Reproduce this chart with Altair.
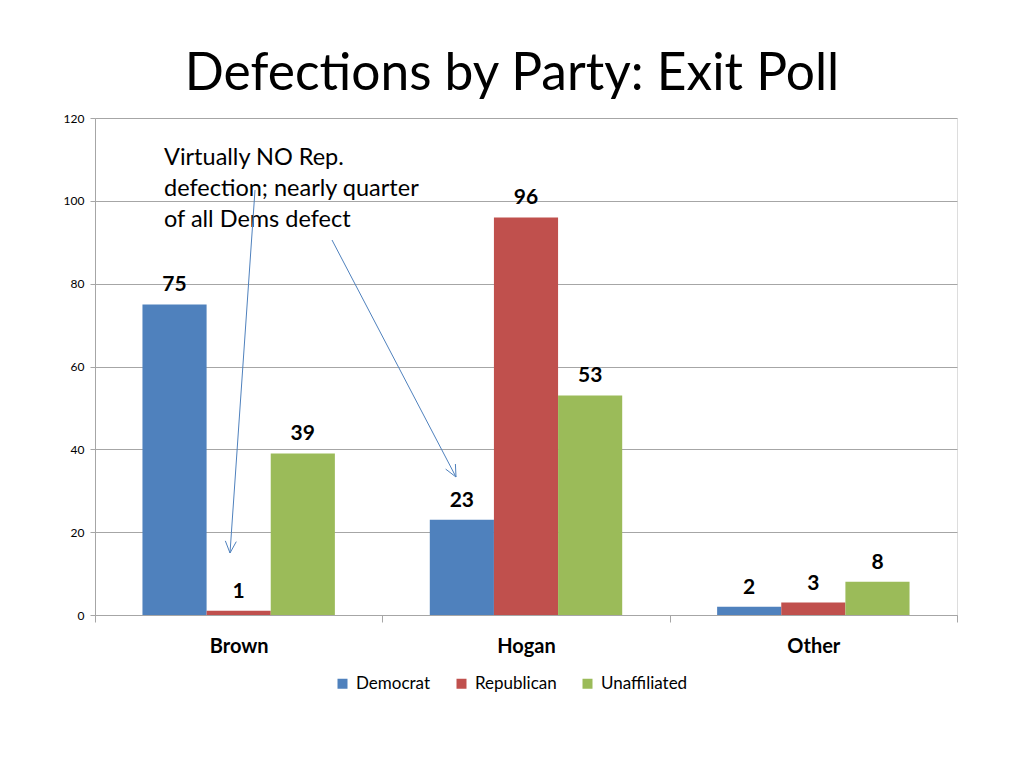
import altair as alt
import pandas as pd
import numpy as np

candidates = ["Brown", "Hogan", "Other"]
parties = ["Democrat", "Republican", "Unaffiliated"]
colors = ["#4F81BD", "#C0504D", "#9BBB59"]
democrat = [75, 23, 2]
republican = [1, 96, 3]
unaffiliated = [39, 53, 8]

rows = []
for i, c in enumerate(candidates):
    for p, vals in zip(parties, [democrat, republican, unaffiliated]):
        rows.append({"candidate": c, "party": p, "value": vals[i]})
df = pd.DataFrame(rows)

FONT = "Lato"
GRAY = "#a6a6a6"

x_enc = alt.X("candidate:N", sort=candidates,
              scale=alt.Scale(paddingInner=0, paddingOuter=0),
              axis=alt.Axis(title=None, labelAngle=0, labelFontSize=20, labelFontWeight="bold",
                            labelColor="#000000", labelFont=FONT, labelPadding=14,
                            tickBand="extent", tickSize=7, tickColor=GRAY, domainColor=GRAY,
                            labelBaseline="top"))
y_enc = alt.Y("value:Q", scale=alt.Scale(domain=[0, 120], nice=False),
              axis=alt.Axis(title=None, values=[0, 20, 40, 60, 80, 100, 120], labelFontSize=12,
                            labelFont=FONT, labelColor="#000000", tickSize=5, tickColor=GRAY,
                            domainColor=GRAY, gridColor=GRAY, labelPadding=6))
xo = alt.XOffset("party:N", sort=parties,
                 scale=alt.Scale(paddingInner=0, paddingOuter=0.74))

bars = alt.Chart(df).mark_bar().encode(
    x=x_enc, xOffset=xo, y=y_enc,
    color=alt.Color("party:N", sort=parties,
                    scale=alt.Scale(domain=parties, range=colors),
                    legend=alt.Legend(title=None, orient="none", direction="horizontal",
                                      legendX=239, legendY=557, symbolType="square",
                                      symbolSize=100, symbolStrokeWidth=0,
                                      labelFontSize=17, labelFont=FONT, labelColor="#000000",
                                      columnPadding=22, labelOffset=5)))

labels = alt.Chart(df).mark_text(fontSize=21, fontWeight="bold", font=FONT,
                                 baseline="alphabetic", dy=-13, color="#000000").encode(
    x=alt.X("candidate:N", sort=candidates), xOffset=xo, y="value:Q", text="value:Q")

note = alt.Chart(pd.DataFrame({"t": ["Virtually NO Rep.\ndefection; nearly quarter\nof all Dems defect"]})).mark_text(
    align="left", baseline="top", fontSize=23.5, font=FONT, lineHeight=31, lineBreak="\n",
    color="#000000").encode(x=alt.value(69), y=alt.value(28), text="t:N")

# annotation arrows (plot-area pixel coordinates)
arrows = [((160, 72), (135, 435)), ((237, 122), (361, 359))]
segs = []
for (x0, y0), (x1, y1) in arrows:
    segs.append((x0, y0, x1, y1))
    ang = np.arctan2(y1 - y0, x1 - x0)
    for s in (1, -1):
        a = ang + np.pi - s * np.radians(25)
        segs.append((x1, y1, x1 + 13 * np.cos(a), y1 + 13 * np.sin(a)))

dummy = pd.DataFrame({"d": [0]})
arrow_layers = [
    alt.Chart(dummy).mark_rule(color="#4F81BD", strokeWidth=1).encode(
        x=alt.value(float(a)), y=alt.value(float(b)), x2=alt.value(float(c)), y2=alt.value(float(d)))
    for a, b, c, d in segs
]

chart = alt.layer(bars, labels, note, *arrow_layers).properties(
    width=862, height=497,
    title=alt.TitleParams("Defections by Party: Exit Poll", fontSize=51.5, font=FONT,
                          fontWeight="normal", color="#000000", anchor="middle", dx=-14, offset=12),
    autosize=alt.AutoSizeParams(type="none"),
    padding={"left": 87, "top": 110, "right": 59, "bottom": 145},
).configure_view(stroke=None).configure(background="#ffffff")

chart.save("out.html", embed_options={"renderer": "svg", "actions": False})
